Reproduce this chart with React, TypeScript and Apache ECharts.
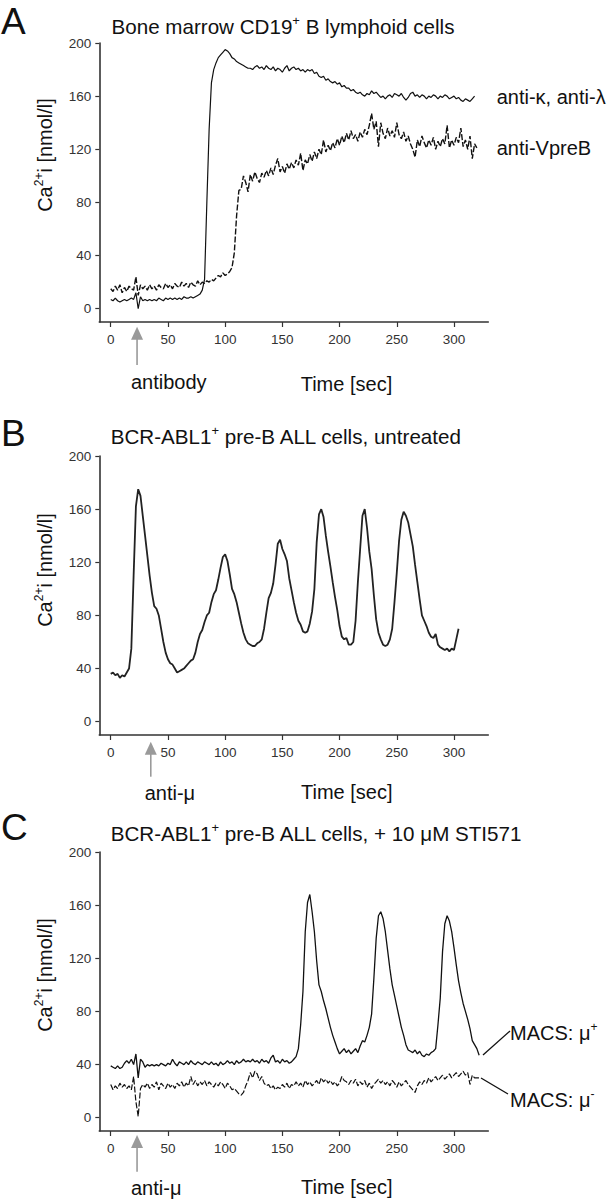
import React, { useEffect, useRef } from "react";
import * as echarts from "echarts";

// time step (sec) between samples
const T_STEP = 2;

// Panel A: bone marrow CD19+ B lymphoid cells
const antiKappaLambda = [
  7, 6, 8, 6, 5, 6, 7, 6, 7, 8, 7,
  12, 0, 9, 6, 7, 6, 7, 6, 7,
  6, 8, 7, 6, 8, 7, 8, 7, 8, 7,
  8, 7, 9, 8, 8, 9, 8, 9, 10, 11,
  14, 22, 80, 135, 170, 180, 185, 189, 191, 193,
  195, 194, 192, 189, 188, 186, 185, 184, 183, 182,
  181, 181, 180, 182, 183, 181, 182, 180, 183, 181,
  180, 182, 179, 181, 180, 178, 181, 183, 179, 181,
  182, 180, 181, 179, 180, 178, 180, 179, 180, 177,
  178, 175, 174, 175, 172, 173, 171, 170, 171, 169,
  170, 167, 168, 166, 166, 164, 165, 163, 162, 163,
  161, 160, 162, 161, 164, 162, 163, 161, 159, 160,
  158, 160, 161, 159, 162, 161, 160, 162, 159, 157,
  159, 162, 163, 160, 161, 159, 161, 160, 158, 160,
  159, 161, 160, 158, 160, 159, 161, 160, 158, 159,
  160, 158, 159, 157, 156, 158, 157, 156, 158, 160,
];
const antiVpreB = [
  15, 13, 17, 14, 18, 12, 16, 13, 17, 15,
  14, 24, 10, 18, 15, 17, 14, 18, 15, 17,
  14, 18, 16, 15, 19, 16, 18, 15, 19, 17,
  16, 20, 17, 19, 16, 20, 18, 17, 21, 18,
  20, 19, 21, 20, 22, 21, 23, 25, 24, 27,
  25, 26, 28, 31, 42, 70, 89, 90, 100, 95,
  88, 101, 96, 103, 98, 95, 102, 99, 104, 100,
  106, 101, 108, 113, 103, 107, 102, 109, 105, 110,
  106, 112, 108, 117, 104, 112, 109, 116, 111, 118,
  113, 120, 116, 127, 118, 123, 119, 125, 121, 128,
  123, 130, 125, 132, 127, 134, 128, 131, 126, 133,
  129, 135, 131, 138, 147, 135, 141, 122, 140, 132,
  128, 136, 130, 134, 129, 140, 131, 128, 133, 126,
  130, 124, 120, 114, 127, 122, 130, 125, 121, 127,
  123, 129, 120, 126, 122, 128, 124, 138, 121, 127,
  123, 129, 125, 136, 122, 127, 120, 130, 113, 124,
  121,
];

// Panel B: BCR-ABL1+ pre-B ALL cells, untreated
const untreated = [
  36, 37, 35, 36, 33, 35, 34, 37, 40, 55,
  110, 162, 175, 170, 155, 140, 125, 110, 97, 87,
  85, 80, 70, 60, 52, 47, 44, 43, 40, 37,
  38, 39, 40, 42, 44, 46, 47, 52, 60, 66,
  69, 75, 80, 82, 90, 96, 99, 107, 116, 124,
  126, 121, 111, 100, 96, 90, 82, 74, 67, 62,
  59, 58, 57, 57, 59, 60, 62, 70, 82, 93,
  97, 104, 118, 134, 137, 130, 126, 121, 108, 99,
  90, 82, 76, 73, 68, 67, 68, 74, 83, 100,
  135, 156, 160, 154, 140, 128, 117, 105, 94, 84,
  72, 64, 62, 63, 58, 58, 60, 76, 105, 130,
  155, 160, 146, 128, 115, 95, 77, 67, 62, 58,
  57, 58, 62, 70, 90, 112, 136, 152, 158, 155,
  150, 141, 132, 118, 105, 92, 80, 76, 72, 67,
  64, 63, 66, 58, 56, 55, 54, 55, 53, 55,
  54, 62, 70,
];

// Panel C: BCR-ABL1+ pre-B ALL cells, + 10 uM STI571
const macsMuPlus = [
  39, 38, 37, 39, 37, 38, 41, 43, 41, 44,
  40, 48, 30, 44, 42, 38, 40, 39, 40, 39,
  40, 39, 41, 40, 39, 41, 40, 44, 41, 39,
  42, 41, 40, 42, 40, 43, 41, 40, 42, 41,
  40, 42, 41, 40, 42, 40, 41, 39, 42, 40,
  41, 43, 41, 42, 40, 43, 41, 42, 44, 42,
  43, 42, 44, 42, 43, 41, 44, 42, 43, 41,
  45, 47, 42, 43, 41, 44, 42, 43, 41, 42,
  44, 46, 52, 70, 95, 140, 162, 168, 155, 140,
  118, 100, 95, 88, 82, 75, 68, 62, 57, 52,
  48, 50, 52, 49, 51, 48, 50, 52, 49, 54,
  58, 57, 62, 68, 78, 105, 135, 152, 155, 150,
  140, 126, 112, 100, 92, 84, 76, 68, 62, 55,
  51, 50, 49, 51, 48, 50, 47, 46, 48, 47,
  49, 50, 52, 70, 90, 125, 146, 152, 148, 140,
  128, 115, 103, 94, 86, 80, 74, 67, 58, 55,
  52, 47,
];
const macsMuMinus = [
  25, 21, 24, 22, 26, 23, 25, 22, 24, 21,
  31, 12, 1, 22, 25, 23, 26, 22, 25, 23,
  27, 21, 26, 24, 22, 26, 23, 25, 22, 26,
  24, 27, 23, 26, 24, 31, 25, 28, 24, 27,
  25, 28, 24, 27, 25, 23, 26, 24, 27, 25,
  22, 26, 24, 21, 22, 20, 18, 17, 19, 24,
  28, 34, 30, 35, 33, 28, 31, 26, 24, 25,
  22, 24, 21, 23, 22, 25, 23, 26, 22, 25,
  24, 27, 24, 26, 23, 28, 25, 27, 24, 26,
  28, 25, 30, 27, 29, 26, 28, 25, 27, 24,
  26, 31, 28, 27, 25, 28, 26, 29, 24, 27,
  25, 28, 23, 26, 22, 25, 27, 29, 26, 28,
  25, 27, 24, 28, 26, 23, 27, 24, 26, 28,
  25, 23, 21, 19, 24, 27, 25, 28, 26, 30,
  27, 29, 31, 28, 30, 32, 29, 31, 33, 30,
  32, 34, 31, 33, 35, 32, 34, 25, 32, 30,
  30, 30,
];

const xTicks = [0, 50, 100, 150, 200, 250, 300];
const yTicks = [0, 40, 80, 120, 160, 200];
const arrowTimes = [23, 35, 23];

const FONT = "'Liberation Sans', Arial, Helvetica, sans-serif";

const toPairs = (vals: number[]) => vals.map((v, i) => [i * T_STEP, v]);

const GRID_LEFT = 99.3;
const GRID_W = 389;
const X_MIN = -10;
const X_MAX = 330;
const gridTops = [43, 456, 852];
const gridH = 279;

const tx = (t: number) => GRID_LEFT + ((t - X_MIN) / (X_MAX - X_MIN)) * GRID_W;

const richSup = (size: number) => ({
  n: { fontSize: size, fontFamily: FONT, fill: "#111", lineHeight: size + 4 },
  s: { fontSize: Math.round(size * 0.62), fontFamily: FONT, fill: "#111", lineHeight: size * 0.7, verticalAlign: "top" },
});

function text(x: number, y: number, str: string, size: number, extra: any = {}) {
  return {
    type: "text",
    x,
    y,
    silent: true,
    ...extra,
    style: {
      text: str,
      fontSize: size,
      fontFamily: FONT,
      fill: "#111",
      align: "left",
      verticalAlign: "middle",
      textAlign: "left",
      textVerticalAlign: "middle",
      rich: richSup(size),
      ...(extra.style || {}),
    },
  };
}

function arrow(x: number, top: number, bottom: number) {
  return [
    {
      type: "polygon",
      silent: true,
      shape: { points: [[x, top], [x - 6, top + 13], [x + 6, top + 13]] },
      style: { fill: "#9a9a9a" },
    },
    {
      type: "line",
      silent: true,
      shape: { x1: x, y1: top + 10, x2: x, y2: bottom },
      style: { stroke: "#9a9a9a", lineWidth: 1.6 },
    },
  ];
}

export default function App() {
  const ref = useRef<HTMLDivElement>(null);

  useEffect(() => {
    if (!ref.current) return;
    const chart = echarts.init(ref.current, null, { renderer: "svg" });

    const grids = gridTops.map((top) => ({ left: GRID_LEFT, top, width: GRID_W, height: gridH }));
    const xAxes = gridTops.map((_, i) => ({
      type: "value",
      gridIndex: i,
      min: X_MIN,
      max: X_MAX,
      axisLine: { show: true, onZero: false, lineStyle: { color: "#333", width: 1.6 } },
      axisTick: { show: true, length: 5, customValues: xTicks, lineStyle: { color: "#333", width: 1.2 } },
      axisLabel: { customValues: xTicks, fontSize: 13.5, color: "#333", fontFamily: FONT, margin: 10 },
      splitLine: { show: false },
    }));
    const yAxes = gridTops.map((_, i) => ({
      type: "value",
      gridIndex: i,
      min: -10,
      max: 200,
      axisLine: { show: true, onZero: false, lineStyle: { color: "#333", width: 1.6 } },
      axisTick: { show: true, length: 4, customValues: yTicks, lineStyle: { color: "#333", width: 1.2 } },
      axisLabel: { customValues: yTicks, fontSize: 13.5, color: "#333", fontFamily: FONT, margin: 8 },
      splitLine: { show: false },
    }));

    const line = (name: string, vals: number[], idx: number, dashed: boolean, width = 1.2, color = "#111") => ({
      name,
      type: "line",
      xAxisIndex: idx,
      yAxisIndex: idx,
      data: toPairs(vals),
      showSymbol: false,
      symbol: "none",
      lineStyle: { color, width, type: dashed ? [6, 2] : "solid" },
      silent: true,
    });

    const yName = "{n|Ca}{s|2+}{n|i [nmol/l]}";
    const rot = { rotation: Math.PI / 2, style: { align: "center", textAlign: "center" } };

    const graphic: any[] = [
      // panel letters
      text(1, 21, "A", 37),
      text(1, 433, "B", 37),
      text(1, 827, "C", 37),
      // titles
      text(111.5, 26.7, "{n|Bone marrow CD19}{s|+}{n| B lymphoid cells}", 20.6),
      text(110.7, 436.7, "{n|BCR-ABL1}{s|+}{n| pre-B ALL cells, untreated}", 20.6),
      text(110.7, 833.3, "{n|BCR-ABL1}{s|+}{n| pre-B ALL cells, + 10 μM STI571}", 20.6),
      // y-axis names
      text(45, 155, yName, 20, rot),
      text(45, 570, yName, 20, rot),
      text(45, 975, yName, 20, rot),
      // x-axis names
      text(300.7, 384, "Time [sec]", 20),
      text(301, 791.7, "Time [sec]", 20),
      text(301, 1186.7, "Time [sec]", 20),
      // stimulus labels
      text(131, 381.7, "antibody", 20),
      text(144.7, 793, "anti-μ", 20),
      text(131, 1188, "anti-μ", 20),
      // series labels
      text(496.7, 96.7, "anti-κ, anti-λ", 20),
      text(496.7, 148.3, "anti-VpreB", 20),
      text(510, 1033, "{n|MACS: μ}{s|+}", 20),
      text(510, 1100, "{n|MACS: μ}{s|-}", 20),
      {
        type: "line",
        silent: true,
        shape: { x1: 483, y1: 1055, x2: 510, y2: 1031 },
        style: { stroke: "#111", lineWidth: 1.3 },
      },
      {
        type: "line",
        silent: true,
        shape: { x1: 481, y1: 1078, x2: 508, y2: 1094 },
        style: { stroke: "#111", lineWidth: 1.3 },
      },
      ...arrow(tx(arrowTimes[0]), 326.7, 365),
      ...arrow(tx(arrowTimes[1]), 741.7, 776.7),
      ...arrow(tx(arrowTimes[2]), 1135, 1171.7),
    ];

    chart.setOption({
      animation: false,
      backgroundColor: "#fff",
      textStyle: { fontFamily: FONT },
      grid: grids,
      xAxis: xAxes,
      yAxis: yAxes,
      series: [
        line("anti-κ, anti-λ", antiKappaLambda, 0, false),
        line("anti-VpreB", antiVpreB, 0, true, 1.4),
        line("untreated", untreated, 1, false, 1.8, "#222"),
        line("MACS: μ+", macsMuPlus, 2, false, 1.3),
        line("MACS: μ-", macsMuMinus, 2, true, 1.2),
      ],
      graphic,
    });

    return () => chart.dispose();
  }, []);

  return (
    <div
      ref={ref}
      style={{ position: "absolute", left: 0, top: 0, width: 610, height: 1200, background: "#fff" }}
    />
  );
}
